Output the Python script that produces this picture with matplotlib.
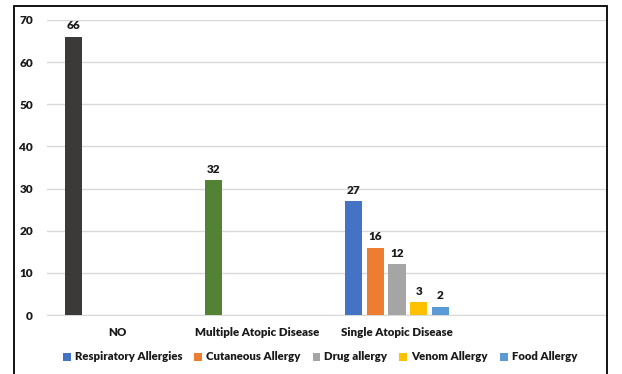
import matplotlib
matplotlib.use("Agg")
import matplotlib.pyplot as plt
from matplotlib.patches import Rectangle, Patch
import numpy as np

categories = ["NO", "Multiple Atopic Disease", "Single Atopic Disease", ""]

no_value = 66
multiple_value = 32
single_labels = ["Respiratory Allergies", "Cutaneous Allergy", "Drug allergy",
                 "Venom Allergy", "Food Allergy"]
single_values = [27, 16, 12, 3, 2]
single_colors = ["#4472C4", "#ED7D31", "#A5A5A5", "#FFC000", "#5B9BD5"]
no_color = "#3B3A38"
multiple_color = "#548235"

yticks = [0, 10, 20, 30, 40, 50, 60, 70]

font = ["Lato", "DejaVu Sans"]
plt.rcParams["font.family"] = font
plt.rcParams["font.weight"] = "heavy"

W, H = 622, 374
fig = plt.figure(figsize=(W / 100, H / 100), dpi=100)
ax = fig.add_axes([47 / W, 1 - 315 / H, 560 / W, 295 / H])

slot = 0.155
width = 0.123
x = np.arange(len(categories))


def offset(i):
    return (i - 2) * slot


bars = []
bars.append(ax.bar(x[0] + offset(0), no_value, width, color=no_color, zorder=3))
bars.append(ax.bar(x[1] + offset(0), multiple_value, width, color=multiple_color, zorder=3))
handles = []
for i, (lab, v, c) in enumerate(zip(single_labels, single_values, single_colors)):
    b = ax.bar(x[2] + offset(i), v, width, color=c, zorder=3, label=lab)
    bars.append(b)
    handles.append(Patch(facecolor=c, label=lab))

for b in bars:
    ax.bar_label(b, padding=4, fontsize=8.5, fontweight="heavy", color="#1a1a1a")

ax.set_xlim(-0.5, 3.5)
ax.set_ylim(0, 70)
ax.set_yticks(yticks)
ax.set_xticks(x)
ax.set_xticklabels(categories)
ax.tick_params(axis="y", length=0, pad=10, labelsize=8.5, labelcolor="#1a1a1a")
ax.tick_params(axis="x", length=0, pad=9, labelsize=8.3, labelcolor="#1a1a1a")
ax.grid(axis="y", color="#D9D9D9", linewidth=1, zorder=0)
for s in ["top", "right", "left"]:
    ax.spines[s].set_visible(False)
ax.spines["bottom"].set_color("#D9D9D9")
ax.spines["bottom"].set_zorder(1)

fig.legend(handles=handles, loc="center", bbox_to_anchor=(320 / W, 1 - 357 / H),
           ncol=5, frameon=False, fontsize=8.2, handlelength=0.7, handleheight=0.7,
           handletextpad=0.35, columnspacing=1.05, labelcolor="#1a1a1a")

# outer frame
fig.patches.append(Rectangle((14 / W, -0.1), (607 - 14) / W, 1.1 - 6 / H,
                             transform=fig.transFigure, fill=False,
                             edgecolor="black", linewidth=1.3))

fig.savefig("out.png", dpi=100)
